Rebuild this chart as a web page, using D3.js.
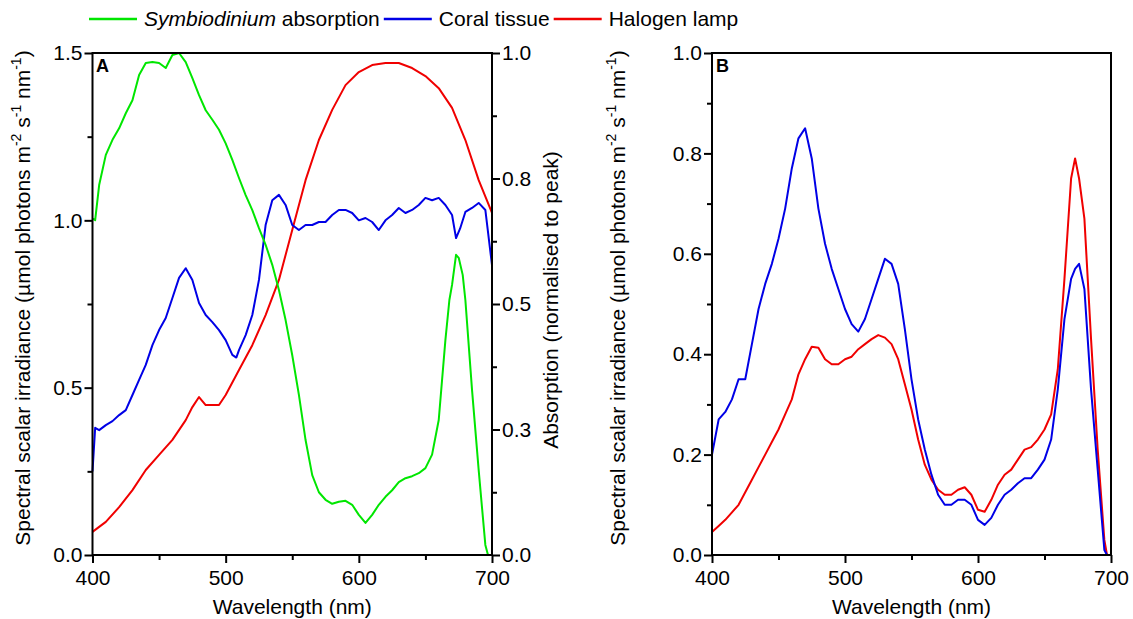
<!DOCTYPE html>
<html>
<head>
<meta charset="utf-8">
<script src="https://cdn.jsdelivr.net/npm/d3@7"></script>
<style>
  body { margin: 0; background: #fff; }
  svg { font-family: "Liberation Sans", Arial, sans-serif; }
</style>
</head>
<body>
<div id="main"></div>
<script>
// wavelengths (nm) and values
const wlA = [400, 402, 405, 410, 415, 420, 425, 430, 435, 440, 445, 450, 455, 460, 465, 470, 475, 480, 485, 490, 495, 500, 505, 508, 510, 515, 520, 525, 530, 535, 540, 545, 550, 555, 560, 565, 570, 575, 580, 585, 590, 595, 600, 605, 610, 615, 620, 625, 630, 635, 640, 645, 650, 655, 660, 665, 670, 673, 676, 680, 685, 690, 695, 700];
const coralA = [0.25, 0.38, 0.373, 0.388, 0.40, 0.418, 0.433, 0.478, 0.523, 0.568, 0.627, 0.672, 0.708, 0.768, 0.828, 0.857, 0.822, 0.753, 0.717, 0.696, 0.672, 0.642, 0.598, 0.59, 0.612, 0.657, 0.717, 0.822, 0.986, 1.06, 1.076, 1.046, 0.986, 0.971, 0.986, 0.986, 0.995, 0.995, 1.016, 1.031, 1.031, 1.022, 1.0, 1.007, 0.995, 0.971, 1.0, 1.016, 1.037, 1.022, 1.031, 1.046, 1.067, 1.06, 1.067, 1.046, 1.016, 0.947, 0.975, 1.025, 1.037, 1.052, 1.031, 0.866];

const wlLampA = [400, 410, 420, 430, 440, 450, 460, 470, 475, 480, 485, 490, 495, 500, 510, 520, 530, 540, 550, 560, 570, 580, 590, 600, 610, 620, 630, 640, 650, 660, 670, 680, 690, 700];
const lampA = [0.069, 0.099, 0.143, 0.194, 0.254, 0.299, 0.344, 0.403, 0.442, 0.472, 0.448, 0.448, 0.448, 0.478, 0.553, 0.627, 0.717, 0.822, 0.971, 1.12, 1.24, 1.33, 1.404, 1.443, 1.464, 1.47, 1.47, 1.455, 1.431, 1.395, 1.336, 1.24, 1.12, 1.022];

const wlAbs = [400, 402, 405, 410, 415, 420, 425, 430, 435, 440, 445, 450, 455, 460, 465, 470, 475, 480, 485, 490, 495, 500, 505, 510, 515, 520, 525, 530, 535, 540, 545, 550, 555, 560, 565, 570, 575, 580, 585, 590, 595, 600, 605, 610, 615, 620, 625, 630, 635, 640, 645, 650, 655, 660, 665, 668, 670, 673, 675, 678, 680, 685, 690, 695, 697];
const absorption = [0.67, 0.667, 0.737, 0.797, 0.827, 0.85, 0.88, 0.906, 0.956, 0.98, 0.982, 0.98, 0.97, 0.996, 1.0, 0.982, 0.95, 0.916, 0.886, 0.867, 0.847, 0.82, 0.787, 0.751, 0.717, 0.687, 0.651, 0.618, 0.578, 0.528, 0.468, 0.398, 0.319, 0.229, 0.159, 0.125, 0.11, 0.102, 0.106, 0.108, 0.1, 0.08, 0.064, 0.08, 0.1, 0.116, 0.129, 0.145, 0.153, 0.157, 0.163, 0.173, 0.2, 0.269, 0.428, 0.508, 0.538, 0.598, 0.592, 0.558, 0.508, 0.329, 0.169, 0.02, 0.0];

const wlB = [400, 405, 410, 415, 420, 425, 430, 435, 440, 445, 450, 455, 460, 465, 470, 475, 480, 485, 490, 495, 500, 505, 510, 515, 520, 525, 530, 535, 540, 545, 550, 555, 560, 565, 570, 575, 580, 585, 590, 595, 600, 605, 610, 615, 620, 625, 630, 635, 640, 645, 650, 655, 660, 665, 670, 673, 676, 680, 685, 690, 695, 697];
const coralB = [0.2, 0.27, 0.285, 0.31, 0.35, 0.35, 0.42, 0.49, 0.54, 0.58, 0.63, 0.69, 0.77, 0.83, 0.85, 0.79, 0.69, 0.62, 0.57, 0.53, 0.49, 0.46, 0.445, 0.47, 0.51, 0.55, 0.59, 0.58, 0.54, 0.45, 0.35, 0.27, 0.21, 0.16, 0.12, 0.1, 0.1, 0.11, 0.11, 0.1, 0.07, 0.06, 0.074, 0.1, 0.12, 0.13, 0.143, 0.153, 0.153, 0.17, 0.19, 0.23, 0.33, 0.47, 0.55, 0.57, 0.58, 0.53, 0.33, 0.17, 0.01, 0.0];
const lampB = [0.046, 0.058, 0.07, 0.085, 0.1, 0.125, 0.15, 0.175, 0.2, 0.225, 0.25, 0.28, 0.31, 0.36, 0.39, 0.415, 0.413, 0.39, 0.38, 0.38, 0.39, 0.395, 0.41, 0.42, 0.43, 0.438, 0.433, 0.42, 0.39, 0.34, 0.29, 0.23, 0.18, 0.15, 0.13, 0.12, 0.12, 0.13, 0.135, 0.12, 0.09, 0.086, 0.11, 0.14, 0.16, 0.17, 0.19, 0.21, 0.215, 0.23, 0.25, 0.28, 0.37, 0.55, 0.75, 0.79, 0.75, 0.67, 0.43, 0.21, 0.03, 0.0];

const xTicks = [400, 500, 600, 700];
const xMinor = [450, 550, 650];
const yTicksA = [0, 0.5, 1.0, 1.5];
const yMinorA = [0.25, 0.75, 1.25];
const absTicks = [0, 0.25, 0.5, 0.75, 1.0];
const absMinor = [0.125, 0.375, 0.625, 0.875];
const yTicksB = [0, 0.2, 0.4, 0.6, 0.8, 1.0];
const yMinorB = [0.1, 0.3, 0.5, 0.7, 0.9];

const GREEN = "#00e600", BLUE = "#0000e6", RED = "#f00000";
const FS = 21;

const W = 1133, H = 619;
const svg = d3.select("#main").append("svg").attr("width", W).attr("height", H);

function styleTicks(sel) {
    sel.selectAll(".tick line").attr("stroke-width", 2);
    sel.selectAll(".tick text").attr("font-size", FS).attr("fill", "#000")
        .attr("font-family", "Liberation Sans, Arial, sans-serif");
}

function drawFrame(g, x, y, yTicks, yMinor, yFmt) {
    const [x0, x1] = x.range();
    const [y0, y1] = y.range();
    g.append("rect").attr("x", x0).attr("y", y1).attr("width", x1 - x0).attr("height", y0 - y1)
        .attr("fill", "none").attr("stroke", "#000").attr("stroke-width", 2);

    const xa = g.append("g").attr("transform", `translate(0,${y0})`)
        .call(d3.axisBottom(x).tickValues(xTicks).tickSize(8).tickFormat(d3.format("d")));
    g.append("g").attr("transform", `translate(0,${y0})`)
        .call(d3.axisBottom(x).tickValues(xMinor).tickSize(5).tickFormat(""));
    const ya = g.append("g").attr("transform", `translate(${x0},0)`)
        .call(d3.axisLeft(y).tickValues(yTicks).tickSize(8).tickFormat(yFmt));
    g.append("g").attr("transform", `translate(${x0},0)`)
        .call(d3.axisLeft(y).tickValues(yMinor).tickSize(5).tickFormat(""));

    g.selectAll(".domain").remove();
    styleTicks(g);
    xa.selectAll(".tick text").attr("dy", "0.95em").attr("y", 10);
    ya.selectAll(".tick text").attr("x", -10);

    g.append("text").attr("x", (x0 + x1) / 2).attr("y", y0 + 59)
        .attr("text-anchor", "middle").attr("font-size", FS).text("Wavelength (nm)");
}

function irradTitle(g, cx, cy) {
    const t = g.append("text").attr("transform", `translate(${cx},${cy}) rotate(-90)`)
        .attr("text-anchor", "middle").attr("font-size", FS);
    t.append("tspan").text("Spectral scalar irradiance (µmol photons m");
    t.append("tspan").attr("font-size", 14).attr("dy", -9).text("-2");
    t.append("tspan").attr("dy", 9).text(" s");
    t.append("tspan").attr("font-size", 14).attr("dy", -9).text("-1");
    t.append("tspan").attr("dy", 9).text(" nm");
    t.append("tspan").attr("font-size", 14).attr("dy", -9).text("-1");
    t.append("tspan").attr("dy", 9).text(")");
}

function drawCurve(g, x, y, xs, ys, color) {
    const line = d3.line().x((d, i) => x(xs[i])).y(d => y(d));
    g.append("path").datum(ys).attr("d", line)
        .attr("fill", "none").attr("stroke", color).attr("stroke-width", 2)
        .attr("stroke-linejoin", "round");
}

// ---- Panel A
const gA = svg.append("g");
const xA = d3.scaleLinear().domain([400, 700]).range([92.5, 492]);
const yA = d3.scaleLinear().domain([0, 1.5]).range([555, 53]);
const yAbs = d3.scaleLinear().domain([0, 1]).range([555, 53]);

drawCurve(gA, xA, yA, wlLampA, lampA, RED);
drawCurve(gA, xA, yA, wlA, coralA, BLUE);
drawCurve(gA, xA, yAbs, wlAbs, absorption, GREEN);
drawFrame(gA, xA, yA, yTicksA, yMinorA, d3.format(".1f"));

const ra = gA.append("g").attr("transform", "translate(492,0)")
    .call(d3.axisRight(yAbs).tickValues(absTicks).tickSize(8).tickFormat(d3.format(".1f")));
const rm = gA.append("g").attr("transform", "translate(492,0)")
    .call(d3.axisRight(yAbs).tickValues(absMinor).tickSize(5).tickFormat(""));
gA.selectAll(".domain").remove();
styleTicks(ra);
styleTicks(rm);
ra.selectAll(".tick text").attr("x", 10);

irradTitle(gA, 30, 298);
gA.append("text").attr("transform", "translate(558,300) rotate(-90)")
    .attr("text-anchor", "middle").attr("font-size", FS).text("Absorption (normalised to peak)");
gA.append("text").attr("x", 96).attr("y", 72).attr("font-size", 18).attr("font-weight", "bold").text("A");

// ---- Panel B
const gB = svg.append("g");
const xB = d3.scaleLinear().domain([400, 700]).range([712, 1111]);
const yB = d3.scaleLinear().domain([0, 1.0]).range([555, 53]);

drawCurve(gB, xB, yB, wlB, lampB, RED);
drawCurve(gB, xB, yB, wlB, coralB, BLUE);
drawFrame(gB, xB, yB, yTicksB, yMinorB, d3.format(".1f"));
irradTitle(gB, 625, 298);
gB.append("text").attr("x", 716).attr("y", 72).attr("font-size", 18).attr("font-weight", "bold").text("B");

// ---- Legend
const legend = [
    { parts: [["Symbiodinium", true], [" absorption", false]], color: GREEN },
    { parts: [["Coral tissue", false]], color: BLUE },
    { parts: [["Halogen lamp", false]], color: RED }
];
const lg = svg.append("g");
let lx = 89;
const ly = 19;
legend.forEach(item => {
    lg.append("line").attr("x1", lx).attr("x2", lx + 48).attr("y1", ly).attr("y2", ly)
        .attr("stroke", item.color).attr("stroke-width", 2.5);
    const t = lg.append("text").attr("x", lx + 55).attr("y", ly + 7).attr("font-size", FS);
    item.parts.forEach(([s, it]) => t.append("tspan").attr("font-style", it ? "italic" : "normal").text(s));
    lx += 55 + t.node().getComputedTextLength() + 4;
});
</script>
</body>
</html>
